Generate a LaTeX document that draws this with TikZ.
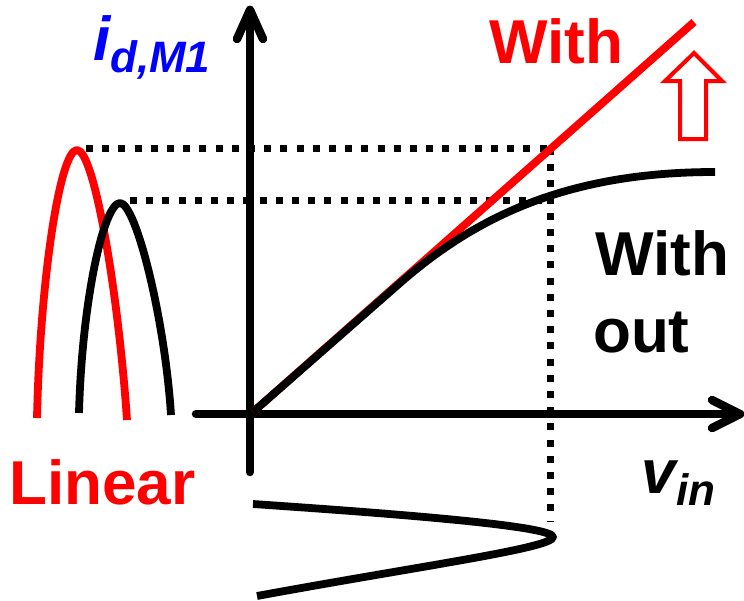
\documentclass[tikz,border=0pt]{standalone}
\usepackage{fontspec}
\setmainfont{Liberation Sans}
\definecolor{pred}{RGB}{255,0,0}
\definecolor{pblue}{RGB}{0,0,255}
\tikzset{
  axisline/.style={line width=8.5pt, line cap=round, line join=round},
  curveline/.style={line width=7.8pt, line cap=butt, line join=round},
  dotline/.style={line width=7pt, line cap=butt, dash pattern=on 7pt off 9.2pt},
  bigtxt/.style={inner sep=0pt, anchor=base west, font=\fontsize{62}{62}\selectfont\bfseries},
  bigit/.style={inner sep=0pt, anchor=base west, font=\fontsize{62}{62}\selectfont\bfseries\itshape},
  subit/.style={inner sep=0pt, anchor=base west, font=\fontsize{44}{44}\selectfont\bfseries\itshape},
}
\begin{document}
\begin{tikzpicture}[x=1pt,y=-1pt]
\useasboundingbox (0,0) rectangle (744,600);
% coordinates
\coordinate (O) at (253,412);
\coordinate (vbot) at (250,472);
\coordinate (vtip) at (250,10);
\coordinate (va1) at (237,39);
\coordinate (va2) at (263,39);
\coordinate (hleft) at (196,414);
\coordinate (htip) at (740,414);
\coordinate (ha1) at (712,400);
\coordinate (ha2) at (712,428);
\coordinate (redend) at (694,22);
% dotted guides
\coordinate (d1a) at (86,148);
\coordinate (d1b) at (550,148);
\coordinate (d2a) at (130,200);
\coordinate (d2b) at (548,200);
\coordinate (d3b) at (550,522);
\draw[dotline] (d1a) -- (d1b);
\draw[dotline] (d2a) -- (d2b);
\draw[dotline] (d1b) -- (d3b);
% axes
\draw[axisline] (vbot) -- (vtip);
\draw[axisline] (va1) -- (vtip) -- (va2);
\draw[axisline] (hleft) -- (htip);
\draw[axisline] (ha1) -- (htip) -- (ha2);
% transfer curves
\draw[curveline, pred] (O) -- (redend);
\coordinate (bk1) at (400,283);
\coordinate (bkend) at (715,172);
\draw[curveline] (O) -- (bk1) .. controls (470,222) and (560,172) .. (bkend);
% output bells
\coordinate (rb1) at (37,418);
\coordinate (rbp) at (77,150);
\coordinate (rb2) at (127,420);
\draw[curveline, pred] (rb1) .. controls (40,280) and (60,150) .. (rbp) .. controls (94,150) and (118,290) .. (rb2);
\coordinate (bb1) at (79,413);
\coordinate (bbp) at (120,203);
\coordinate (bb2) at (171,415);
\draw[curveline] (bb1) .. controls (82,300) and (104,203) .. (bbp) .. controls (136,203) and (165,320) .. (bb2);
% input sine
\coordinate (s1) at (253,504);
\coordinate (stip) at (553,537);
\coordinate (s2) at (257,596);
\draw[curveline] (s1) .. controls (400,514) and (553,526) .. (stip) .. controls (553,548) and (420,566) .. (s2);
% hollow arrow
\coordinate (ha) at (680,139);
\draw[pred, line width=4pt, line join=miter] (ha) -- (680,81) -- (665,81) -- (694,53) -- (722,81) -- (706,81) -- (706,139) -- cycle;
% labels
\node[bigtxt, pred] (with1) at (489,63) {With};
\node[bigtxt] (with2) at (595,275) {With};
\node[bigtxt] (out) at (593,352) {out};
\node[bigtxt, pred] (lin) at (9,504) {Linear};
\node[bigit] (vv) at (641,493) {v};
\node[subit] (vsub) at (676,505) {in};
\node[bigit, pblue] (ii) at (93,60) {i};
\node[subit, pblue] (isub) at (110,72) {d,M1};
\end{tikzpicture}
\end{document}
